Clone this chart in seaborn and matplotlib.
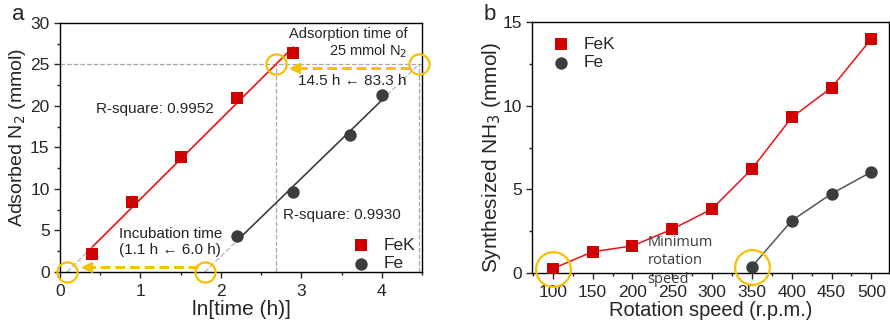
import matplotlib
matplotlib.use("Agg")
import matplotlib.pyplot as plt
import numpy as np
import pandas as pd
import seaborn as sns
from matplotlib.ticker import MultipleLocator

# panel a: adsorbed N2 vs ln(time)
fek_lnt = [0.4, 0.9, 1.5, 2.2, 2.9]
fek_n2 = [2.2, 8.4, 13.9, 21.0, 26.4]
fe_lnt = [2.2, 2.9, 3.6, 4.0]
fe_n2 = [4.3, 9.6, 16.5, 21.3]

# panel b: synthesized NH3 vs rotation speed
fek_rpm = [100, 150, 200, 250, 300, 350, 400, 450, 500]
fek_nh3 = [0.26, 1.27, 1.62, 2.62, 3.83, 6.22, 9.3, 11.08, 14.0]
fe_rpm = [350, 400, 450, 500]
fe_nh3 = [0.38, 3.13, 4.74, 6.04]

sns.set_theme(style="ticks")
plt.rcParams["font.family"] = ["Liberation Sans Narrow", "Liberation Sans", "DejaVu Sans"]
plt.rcParams["mathtext.fontset"] = "custom"
plt.rcParams["mathtext.rm"] = "Liberation Sans Narrow"
plt.rcParams["mathtext.it"] = "Liberation Sans Narrow:italic"
plt.rcParams["mathtext.default"] = "rm"

RED = "#d00000"
RED_LINE = "#ee1111"
GREY = "#3d3d3d"
YELLOW = "#f7c000"
LIGHT = "#a8a8a8"

fig = plt.figure(figsize=(8.9, 3.3), dpi=100)
ax_a = fig.add_axes([0.0674, 0.1758, 0.4067, 0.7545])
ax_b = fig.add_axes([0.5978, 0.1727, 0.4010, 0.7606])


def style_axes(ax):
    for sp in ax.spines.values():
        sp.set_linewidth(1.0)
        sp.set_color("black")
    ax.tick_params(which="major", direction="out", length=4.5, width=1,
                   labelsize=12.5, top=False, right=False)
    ax.tick_params(axis="x", which="major", pad=4)
    ax.tick_params(axis="y", which="major", pad=3)
    ax.tick_params(which="minor", direction="out", length=2.5, width=1,
                   top=False, right=False)


# ---------------- panel a ----------------
ax = ax_a
df_fek = pd.DataFrame({"x": fek_lnt, "y": fek_n2})
df_fe = pd.DataFrame({"x": fe_lnt, "y": fe_n2})

k1, b1 = np.polyfit(fek_lnt, fek_n2, 1)
k2, b2 = np.polyfit(fe_lnt, fe_n2, 1)
x0_fek, x25_fek = -b1 / k1, (25 - b1) / k1
x0_fe, x25_fe = -b2 / k2, (25 - b2) / k2

# guide lines
ax.plot([0, 4.5], [25, 25], ls="--", color=LIGHT, lw=0.9, zorder=1)
ax.plot([x25_fek, x25_fek], [0, 25], ls="--", color=LIGHT, lw=0.9, zorder=1)
ax.plot([x25_fe, x25_fe], [0, 25], ls="--", color=LIGHT, lw=0.9, zorder=1)

# fit extensions
ax.plot([x0_fek, fek_lnt[0]], [0, k1 * fek_lnt[0] + b1], ls="--", color="#bbbbbb", lw=1, zorder=1)
ax.plot([x0_fe, fe_lnt[0]], [0, k2 * fe_lnt[0] + b2], ls="--", color="#bbbbbb", lw=1, zorder=1)
ax.plot([fe_lnt[-1], x25_fe], [k2 * fe_lnt[-1] + b2, 25], ls="--", color="#bbbbbb", lw=1, zorder=1)

# fit lines
xs = np.array([fek_lnt[0], fek_lnt[-1]])
ax.plot(xs, k1 * xs + b1, color=RED_LINE, lw=1.2, zorder=2)
xs = np.array([fe_lnt[0], fe_lnt[-1]])
ax.plot(xs, k2 * xs + b2, color=GREY, lw=1.2, zorder=2)

sns.scatterplot(data=df_fek, x="x", y="y", marker="s", s=70, color=RED,
                edgecolor=RED, linewidth=0, label="FeK", ax=ax, zorder=3)
sns.scatterplot(data=df_fe, x="x", y="y", marker="o", s=80, color=GREY,
                edgecolor=GREY, linewidth=0, label="Fe", ax=ax, zorder=3)

# yellow circles
for cx, cy in [(x0_fek, 0), (x0_fe, 0), (x25_fek, 25), (x25_fe, 25)]:
    ax.plot(cx, cy, marker="o", ms=14.5, mfc="none", mec=YELLOW, mew=1.6,
            clip_on=False, zorder=4)

# yellow dashed arrows
ax.plot([1.72, 0.36], [0.55, 0.55], ls=(0, (3.2, 1.6)), color=YELLOW, lw=2.2, zorder=4)
ax.plot(0.33, 0.55, marker="<", ms=7, color=YELLOW, mec=YELLOW, zorder=4)
ax.plot([4.35, 2.95], [24.6, 24.6], ls=(0, (3.2, 1.6)), color=YELLOW, lw=2.2, zorder=4)
ax.plot(2.92, 24.6, marker="<", ms=7, color=YELLOW, mec=YELLOW, zorder=4)

ax.text(0.45, 19.6, "R-square: 0.9952", fontsize=11, va="center")
ax.text(2.77, 6.9, "R-square: 0.9930", fontsize=11, va="center")
ax.text(0.73, 4.6, "Incubation time", fontsize=11, va="center", color="#222222")
ax.text(0.73, 2.6, "(1.1 h \u2190 6.0 h)", fontsize=11, va="center", color="#222222")
ax.text(4.32, 28.7, "Adsorption time of", fontsize=10.5, va="center", ha="right")
ax.text(4.32, 26.6, "25 mmol N$_2$", fontsize=10.5, va="center", ha="right")
ax.text(4.31, 23.0, "14.5 h \u2190 83.3 h", fontsize=11, va="center", ha="right")

ax.set_xlim(0, 4.5)
ax.set_ylim(0, 30)
ax.xaxis.set_major_locator(MultipleLocator(1))
ax.xaxis.set_minor_locator(MultipleLocator(0.5))
ax.yaxis.set_major_locator(MultipleLocator(5))
ax.yaxis.set_minor_locator(MultipleLocator(2.5))
ax.set_xlabel("ln[time (h)]", fontsize=15, labelpad=1)
ax.set_ylabel("Adsorbed N$_2$ (mmol)", fontsize=14)
ax.yaxis.set_label_coords(-0.088, 0.54)
style_axes(ax)
ax.legend(loc="lower right", bbox_to_anchor=(1.025, -0.06), frameon=False,
          fontsize=12.5, handlelength=1.0, handletextpad=0.8,
          borderaxespad=0.5, labelspacing=0.2)

fig.text(0.014, 0.955, "a", fontsize=16, va="center")

# ---------------- panel b ----------------
ax = ax_b
df_b1 = pd.DataFrame({"x": fek_rpm, "y": fek_nh3})
df_b2 = pd.DataFrame({"x": fe_rpm, "y": fe_nh3})

sns.lineplot(data=df_b1, x="x", y="y", color=RED_LINE, lw=1.1, ax=ax, zorder=2)
sns.lineplot(data=df_b2, x="x", y="y", color="#555555", lw=1.1, ax=ax, zorder=2)
sns.scatterplot(data=df_b1, x="x", y="y", marker="s", s=70, color=RED,
                edgecolor=RED, linewidth=0, label="FeK", ax=ax, zorder=3)
sns.scatterplot(data=df_b2, x="x", y="y", marker="o", s=80, color=GREY,
                edgecolor=GREY, linewidth=0, label="Fe", ax=ax, zorder=3)

for cx, cy in [(fek_rpm[0], fek_nh3[0]), (fe_rpm[0], fe_nh3[0])]:
    ax.plot(cx, cy, marker="o", ms=25, mfc="none", mec=YELLOW, mew=1.6,
            clip_on=False, zorder=4)

note_font = ["Open Sans", "DejaVu Sans"]
ax.text(219, 1.8, "Minimum", fontsize=10.5, va="center", color="#3a3a3a", family=note_font)
ax.text(219, 0.72, "rotation", fontsize=10.5, va="center", color="#3a3a3a", family=note_font)
ax.text(219, -0.36, "speed", fontsize=10.5, va="center", color="#3a3a3a",
        family=note_font, clip_on=False, zorder=5)

ax.set_xlim(74, 522)
ax.set_ylim(0, 15)
ax.set_xticks(fek_rpm)
ax.xaxis.set_minor_locator(MultipleLocator(25))
ax.yaxis.set_major_locator(MultipleLocator(5))
ax.yaxis.set_minor_locator(MultipleLocator(2.5))
ax.set_xlabel("Rotation speed (r.p.m.)", fontsize=14.4, labelpad=1)
ax.set_ylabel("Synthesized NH$_3$ (mmol)", fontsize=15)
ax.yaxis.set_label_coords(-0.081, 0.462)
style_axes(ax)
ax.legend(loc="upper left", bbox_to_anchor=(-0.006, 1.032), frameon=False,
          fontsize=12.5, handlelength=1.0, handletextpad=0.8,
          borderaxespad=0.9, labelspacing=0.2)

fig.text(0.543, 0.955, "b", fontsize=16, va="center")

fig.savefig("out.png", dpi=100)
